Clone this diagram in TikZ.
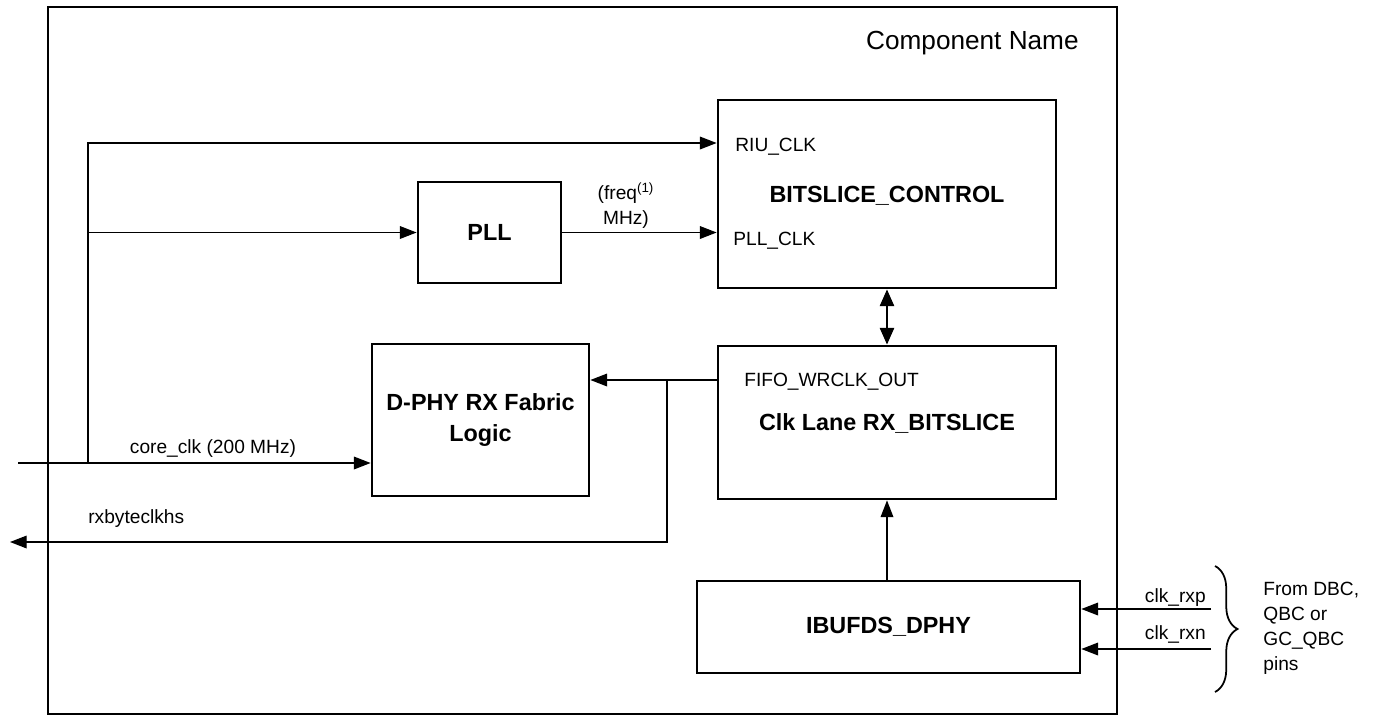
\documentclass[tikz,border=0pt]{standalone}
\usepackage{fontspec}
\setmainfont{Liberation Sans}
\usetikzlibrary{arrows.meta,decorations.pathreplacing}
\tikzset{
  box/.style={draw, line width=1.6pt, rectangle, inner sep=0pt, align=center,
              font=\fontsize{13.3}{17.5}\selectfont\bfseries},
  conn/.style={line width=0.75pt, -{Triangle[length=9.5pt,width=7.2pt]}},
  wire/.style={line width=0.75pt},
  dbl/.style={line width=1.3pt, {Triangle[length=9.5pt,width=8pt]}-{Triangle[length=9.5pt,width=8pt]}},
  lbl/.style={inner sep=0pt, font=\fontsize{10.9}{14.2}\selectfont},
  blbl/.style={inner sep=0pt, font=\fontsize{13.3}{17.5}\selectfont\bfseries},
}
\begin{document}
\begin{tikzpicture}[x=0.02cm, y=-0.02cm]
\useasboundingbox (0,0) rectangle (1377,721);
% outer frame
\node[draw, line width=1.4pt, minimum width=21.38cm, minimum height=14.14cm, inner sep=0pt] (frame) at (582.5,360.5) {};
\node[inner sep=0pt, anchor=base east, font=\fontsize{14.9}{17}\selectfont] (cname) at (1079,49) {Component Name};
% blocks
\node[box, minimum width=6.76cm, minimum height=3.76cm] (bc) at (887,194) {};
\node[box, minimum width=2.86cm, minimum height=2.02cm] (pll) at (489.5,232.5) {PLL};
\node[box, minimum width=4.34cm, minimum height=3.04cm] (dphy) at (480.5,420) {D-PHY RX Fabric\\Logic};
\node[box, minimum width=6.76cm, minimum height=3.06cm] (clk) at (887,422.5) {};
\node[box, minimum width=7.66cm, minimum height=1.84cm] (ib) at (888.5,627) {IBUFDS\_DPHY};
% texts inside blocks
\node[blbl, anchor=base] (bctxt) at (887,202) {BITSLICE\_CONTROL};
\node[lbl, anchor=base west] (riu) at (735,151) {RIU\_CLK};
\node[lbl, anchor=base west] (pllclk) at (733,245) {PLL\_CLK};
\node[blbl, anchor=base] (clktxt) at (887,430) {Clk Lane RX\_BITSLICE};
\node[lbl, anchor=base west] (fifo) at (744,386) {FIFO\_WRCLK\_OUT};
% coordinates
\coordinate (cin) at (18,463);
\coordinate (br) at (88,463);
\coordinate (br2) at (88,232.5);
\coordinate (yriu) at (0,143);
\coordinate (yfifo) at (0,380);
\coordinate (split) at (667,380);
\coordinate (out) at (10,542);
\coordinate (rxp) at (1211,609);
\coordinate (rxn) at (1211,649);
% connectors
\draw[conn] (cin) -- (cin -| dphy.west);
\draw[conn] (br) |- (bc.west |- yriu);
\draw[conn] (br2) -- (pll.west);
\draw[conn] (pll.east) -- (pll.east -| bc.west);
\draw[dbl] (bc.south) -- (clk.north);
\draw[conn] (clk.west |- yfifo) -- (dphy.east |- yfifo);
\draw[conn] (split) |- (out);
\draw[conn] (clk.south |- ib.north) -- (clk.south);
\draw[conn] (rxp) -- (rxp -| ib.east);
\draw[conn] (rxn) -- (rxn -| ib.east);
% labels
\node[lbl, align=center] (freq) at (626,206) {(freq\textsuperscript{(1)}\\MHz)};
\node[lbl, anchor=base] (core) at (213,453) {core\_clk (200 MHz)};
\node[lbl, anchor=base west] (rxb) at (88,523) {rxbyteclkhs};
\node[lbl, anchor=base east] (rxpl) at (1206,602) {clk\_rxp};
\node[lbl, anchor=base east] (rxnl) at (1206,639) {clk\_rxn};
% brace
\coordinate (bt) at (1215,566);
\coordinate (bb) at (1215,692);
\draw[line width=1pt, decorate, decoration={brace, amplitude=0.45cm}] (bt) -- (bb);
\node[lbl, align=left, anchor=west, font=\fontsize{10.9}{14.2}\selectfont] (from) at (1263,628) {From DBC,\\QBC or\\GC\_QBC\\pins};
\end{tikzpicture}
\end{document}
